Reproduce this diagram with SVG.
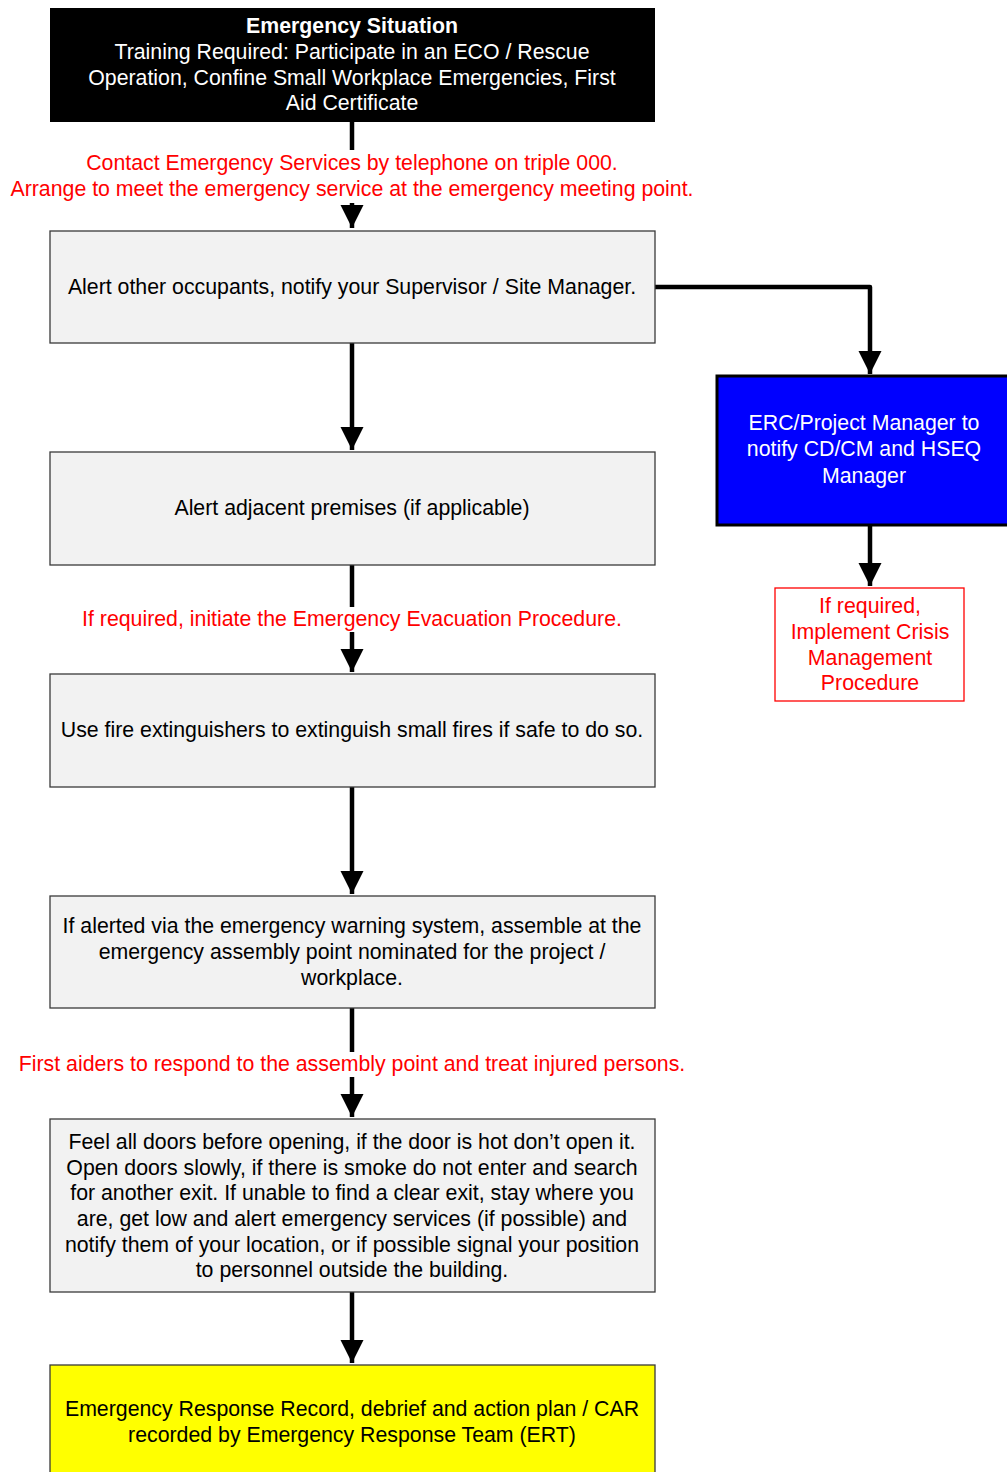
<svg xmlns="http://www.w3.org/2000/svg" width="1007" height="1472" viewBox="0 0 1007 1472">
  <style>
    text { font-family: "Liberation Sans", Arial, sans-serif; font-size: 21.3px; text-anchor: middle; }
    .box { fill: #f2f2f2; stroke: #3a3a3a; stroke-width: 1.3; }
    .dark { fill: #000; }
    .white { fill: #fff; }
    .red { fill: #ff0000; }
    .blk { fill: #000; }
    .conn { stroke: #000; stroke-width: 4.5; fill: none; stroke-linejoin: round; }
    .gap { fill: #fff; }
  </style>
  <defs>
    <marker id="arrow" viewBox="0 0 24 25" refX="24" refY="12" markerWidth="25" markerHeight="24" markerUnits="userSpaceOnUse" orient="auto">
      <path d="M0,0 L24,12 L0,24 Z" fill="#000"/>
    </marker>
  </defs>

  <rect width="1007" height="1472" fill="#fff"/>

  <!-- connectors -->
  <g id="connectors">
    <path class="conn" d="M352,122 V228" marker-end="url(#arrow)"/>
    <path class="conn" d="M352,343 V450" marker-end="url(#arrow)"/>
    <path class="conn" d="M352,565 V672" marker-end="url(#arrow)"/>
    <path class="conn" d="M352,787 V894" marker-end="url(#arrow)"/>
    <path class="conn" d="M352,1008 V1117" marker-end="url(#arrow)"/>
    <path class="conn" d="M352,1292 V1363" marker-end="url(#arrow)"/>
    <path class="conn" d="M655,287 H870 V374" marker-end="url(#arrow)"/>
    <path class="conn" d="M870,525 V586" marker-end="url(#arrow)"/>
  </g>

  <!-- labels on connectors -->
  <g id="label-contact">
    <rect class="gap" x="8" y="150" width="690" height="53"/>
    <text class="red" x="352" y="170">Contact Emergency Services by telephone on triple 000.</text>
    <text class="red" x="352" y="196">Arrange to meet the emergency service at the emergency meeting point.</text>
  </g>
  <g id="label-evacuation">
    <rect class="gap" x="78" y="607" width="550" height="25"/>
    <text class="red" x="352" y="626">If required, initiate the Emergency Evacuation Procedure.</text>
  </g>
  <g id="label-first-aid">
    <rect class="gap" x="16" y="1052" width="674" height="25"/>
    <text class="red" x="352" y="1071">First aiders to respond to the assembly point and treat injured persons.</text>
  </g>

  <!-- nodes -->
  <g id="node-emergency">
    <rect class="dark" x="50" y="8" width="605" height="114"/>
    <text class="white" x="352" y="33" font-weight="bold">Emergency Situation</text>
    <text class="white" x="352" y="59">Training Required: Participate in an ECO / Rescue</text>
    <text class="white" x="352" y="85">Operation, Confine Small Workplace Emergencies, First</text>
    <text class="white" x="352" y="110">Aid Certificate</text>
  </g>

  <g id="node-alert-occupants">
    <rect class="box" x="50" y="231" width="605" height="112"/>
    <text class="blk" x="352" y="294">Alert other occupants, notify your Supervisor / Site Manager.</text>
  </g>

  <g id="node-alert-premises">
    <rect class="box" x="50" y="452" width="605" height="113"/>
    <text class="blk" x="352" y="515">Alert adjacent premises (if applicable)</text>
  </g>

  <g id="node-extinguishers">
    <rect class="box" x="50" y="674" width="605" height="113"/>
    <text class="blk" x="352" y="737">Use fire extinguishers to extinguish small fires if safe to do so.</text>
  </g>

  <g id="node-assemble">
    <rect class="box" x="50" y="896" width="605" height="112"/>
    <text class="blk" x="352" y="933">If alerted via the emergency warning system, assemble at the</text>
    <text class="blk" x="352" y="959">emergency assembly point nominated for the project /</text>
    <text class="blk" x="352" y="985">workplace.</text>
  </g>

  <g id="node-doors">
    <rect class="box" x="50" y="1119" width="605" height="173"/>
    <text class="blk" x="352" y="1149">Feel all doors before opening, if the door is hot don’t open it.</text>
    <text class="blk" x="352" y="1175">Open doors slowly, if there is smoke do not enter and search</text>
    <text class="blk" x="352" y="1200">for another exit. If unable to find a clear exit, stay where you</text>
    <text class="blk" x="352" y="1226">are, get low and alert emergency services (if possible) and</text>
    <text class="blk" x="352" y="1252">notify them of your location, or if possible signal your position</text>
    <text class="blk" x="352" y="1277">to personnel outside the building.</text>
  </g>

  <g id="node-record">
    <rect x="50" y="1365" width="605" height="115" fill="#ffff00" stroke="#3a3a3a" stroke-width="1.3"/>
    <text class="blk" x="352" y="1416">Emergency Response Record, debrief and action plan / CAR</text>
    <text class="blk" x="352" y="1442">recorded by Emergency Response Team (ERT)</text>
  </g>

  <g id="node-erc">
    <rect x="717" y="376" width="300" height="149" fill="#0000ff" stroke="#000" stroke-width="3"/>
    <text class="white" x="864" y="430">ERC/Project Manager to</text>
    <text class="white" x="864" y="456">notify CD/CM and HSEQ</text>
    <text class="white" x="864" y="483">Manager</text>
  </g>

  <g id="node-crisis">
    <rect x="775" y="588" width="189" height="113" fill="#fff" stroke="#ff0000" stroke-width="1.3"/>
    <text class="red" x="870" y="613">If required,</text>
    <text class="red" x="870" y="639">Implement Crisis</text>
    <text class="red" x="870" y="665">Management</text>
    <text class="red" x="870" y="690">Procedure</text>
  </g>
</svg>
